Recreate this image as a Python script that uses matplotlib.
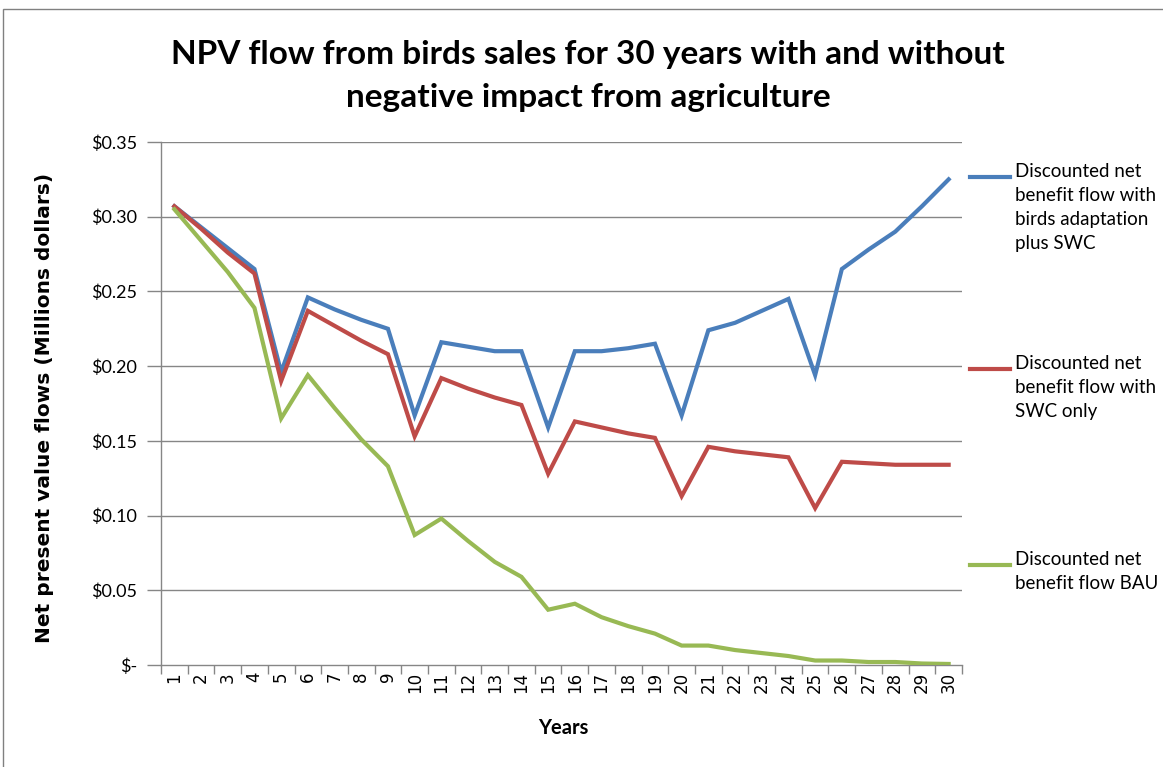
import matplotlib
matplotlib.use("Agg")
import matplotlib.pyplot as plt
from matplotlib.lines import Line2D
from matplotlib.patches import Rectangle
from matplotlib.ticker import FixedLocator, NullFormatter

years = list(range(1, 31))
year_labels = [str(y) for y in years]

birds_swc = [0.307, 0.293, 0.279, 0.265, 0.196, 0.246, 0.238, 0.231, 0.225, 0.167,
             0.216, 0.213, 0.210, 0.210, 0.159, 0.210, 0.210, 0.212, 0.215, 0.167,
             0.224, 0.229, 0.237, 0.245, 0.194, 0.265, 0.278, 0.290, 0.307, 0.325]
swc_only = [0.307, 0.292, 0.276, 0.262, 0.190, 0.237, 0.227, 0.217, 0.208, 0.153,
            0.192, 0.185, 0.179, 0.174, 0.128, 0.163, 0.159, 0.155, 0.152, 0.113,
            0.146, 0.143, 0.141, 0.139, 0.105, 0.136, 0.135, 0.134, 0.134, 0.134]
bau = [0.305, 0.284, 0.263, 0.239, 0.165, 0.194, 0.172, 0.151, 0.133, 0.087,
       0.098, 0.083, 0.069, 0.059, 0.037, 0.041, 0.032, 0.026, 0.021, 0.013,
       0.013, 0.010, 0.008, 0.006, 0.003, 0.003, 0.002, 0.002, 0.001, 0.0007]

series_labels = ["Discounted net\nbenefit flow with\nbirds adaptation\nplus SWC",
                 "Discounted net\nbenefit flow with\nSWC only",
                 "Discounted net\nbenefit flow BAU"]
series_colors = ["#4A7EBB", "#BE4B48", "#98B954"]

y_ticks = [0.0, 0.05, 0.10, 0.15, 0.20, 0.25, 0.30, 0.35]
y_tick_labels = ["$-", "$0.05", "$0.10", "$0.15", "$0.20", "$0.25", "$0.30", "$0.35"]

title = "NPV flow from birds sales for 30 years with and without\nnegative impact from agriculture"
x_label = "Years"
y_label = "Net present value flows (Millions dollars)"

W, H = 1163, 767
fig = plt.figure(figsize=(W / 100, H / 100), dpi=100)
fig.patch.set_facecolor("white")

# outer chart border
fig.patches.append(Rectangle((3 / W, -0.05), 1.2, 1 - 9 / H + 0.05, transform=fig.transFigure,
                             fill=False, edgecolor="#808080", linewidth=1.0))

ax = fig.add_axes([161 / W, 1 - 665 / H, (962 - 161) / W, (665 - 142) / H])
ax.set_xlim(0.5, 30.5)
ax.set_ylim(0, 0.35)

grid_color = "#868686"
ax.set_yticks(y_ticks)
ax.set_yticklabels(y_tick_labels, fontfamily="Lato", fontsize=13)
for yv in y_ticks[1:]:
    ax.axhline(yv, color=grid_color, linewidth=1.0, zorder=1)

ax.set_xticks(years)
ax.set_xticklabels(year_labels, rotation=90, fontfamily="DejaVu Sans", fontsize=12)
ax.tick_params(axis="x", which="major", length=0, pad=5)
ax.xaxis.set_minor_locator(FixedLocator([i + 0.5 for i in range(0, 31)]))
ax.xaxis.set_minor_formatter(NullFormatter())
ax.tick_params(axis="x", which="minor", length=6.5, color=grid_color, width=1)
ax.tick_params(axis="y", length=10, color=grid_color, width=1, pad=7)

for side in ["top", "right"]:
    ax.spines[side].set_visible(False)
for side in ["left", "bottom"]:
    ax.spines[side].set_color(grid_color)
    ax.spines[side].set_linewidth(1.0)

for vals, col in zip([birds_swc, swc_only, bau], series_colors):
    ax.plot(years, vals, color=col, linewidth=3, zorder=3, solid_joinstyle="miter")

fig.text(588 / W, 1 - 76 / H, title, ha="center", va="center", fontfamily="Lato",
         fontweight="bold", fontsize=24, linespacing=1.55)
fig.text(563 / W, 1 - 728 / H, x_label, ha="center", va="center", fontfamily="Lato",
         fontweight="bold", fontsize=14.5)
fig.text(45 / W, 1 - 408 / H, y_label, ha="center", va="center", rotation=90,
         fontfamily="DejaVu Sans", fontweight="bold", fontsize=14.5)

# legend
legend_line_y = [177, 369, 565]
for lab, col, ly in zip(series_labels, series_colors, legend_line_y):
    fig.add_artist(Line2D([970 / W, 1010 / W], [1 - ly / H, 1 - ly / H], color=col,
                          linewidth=3, transform=fig.transFigure))
    fig.text(1015 / W, 1 - (ly - 14) / H, lab, ha="left", va="top", fontfamily="Lato",
             fontsize=13.5, linespacing=1.5)

fig.savefig("out.png", dpi=100, facecolor="white")
